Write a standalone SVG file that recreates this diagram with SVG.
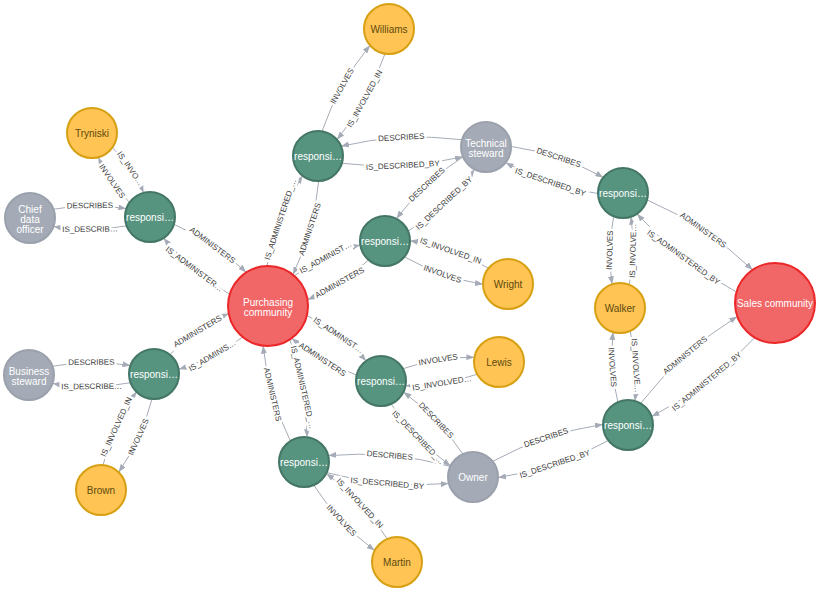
<svg xmlns="http://www.w3.org/2000/svg" xmlns:xlink="http://www.w3.org/1999/xlink" width="819" height="591" viewBox="0 0 819 591">
  <style>
    .link { fill: none; stroke: #A5ABB6; stroke-width: 1; marker-end: url(#arrow); }
    .el { font-family: "Liberation Sans", Arial, sans-serif; font-size: 8px; text-anchor: middle; dominant-baseline: central; }
    .node circle { stroke-width: 2; }
    .node text { font-family: "Liberation Sans", Arial, sans-serif; font-size: 10px; text-anchor: middle; }
    .yellow circle { fill: #FFC454; stroke: #D7A013; }
    .yellow text { fill: #604A0E; }
    .green circle { fill: #569480; stroke: #447666; }
    .gray circle { fill: #A5ABB6; stroke: #9AA1AC; }
    .red circle { fill: #F16667; stroke: #EB2728; }
    .green text, .gray text, .red text { fill: #FFFFFF; }
  </style>
  <defs>
    <marker id="arrow" viewBox="0 0 8 6" refX="8" refY="3" markerWidth="8" markerHeight="6" orient="auto" markerUnits="userSpaceOnUse">
      <path d="M0,0 L8,3 L0,6 Z" fill="#A5ABB6"/>
    </marker>
    <!-- cut the relationship lines where their captions sit -->
    <mask id="label-gaps" maskUnits="userSpaceOnUse" x="0" y="0" width="819" height="591">
      <rect x="0" y="0" width="819" height="591" fill="white"/>
      <use xlink:href="#link-labels" href="#link-labels" fill="black" stroke="black" stroke-width="5"/>
    </mask>
  </defs>
  <rect x="0" y="0" width="819" height="591" fill="#FFFFFF"/>

  <g id="connectors">
    <g mask="url(#label-gaps)">
      <path class="link" d="M129.6,202.5 Q109.9,182.7 98.3,157.2"/>
      <path class="link" d="M112.4,147.5 Q132.1,167.3 143.7,192.8"/>
      <path class="link" d="M53.4,209.3 Q89.9,202.4 126.4,208.7"/>
      <path class="link" d="M126.6,225.8 Q90.1,232.6 53.6,226.4"/>
      <path class="link" d="M173.9,224.3 Q214.8,242.1 246.2,272.4"/>
      <path class="link" d="M229.7,294.3 Q192.0,272.4 163.6,238.0"/>
      <path class="link" d="M322.0,131.3 Q338.3,84.0 370.1,45.3"/>
      <path class="link" d="M385.0,53.7 Q368.7,101.0 336.9,139.7"/>
      <path class="link" d="M462.1,139.7 Q401.0,132.1 341.0,146.2"/>
      <path class="link" d="M341.9,163.3 Q403.0,170.9 463.0,156.8"/>
      <path class="link" d="M318.7,181.0 Q314.1,230.6 292.9,274.7"/>
      <path class="link" d="M266.9,266.0 Q276.4,218.0 302.5,175.6"/>
      <path class="link" d="M463.0,156.8 Q424.1,181.8 396.4,218.7"/>
      <path class="link" d="M408.0,231.3 Q446.9,206.3 474.6,169.3"/>
      <path class="link" d="M368.6,259.9 Q341.2,285.5 307.5,299.7"/>
      <path class="link" d="M294.2,275.8 Q324.1,254.6 360.3,244.9"/>
      <path class="link" d="M404.4,256.8 Q441.2,277.7 483.0,284.3"/>
      <path class="link" d="M488.6,268.2 Q451.8,247.4 410.0,240.7"/>
      <path class="link" d="M511.0,146.4 Q560.0,153.6 603.4,177.4"/>
      <path class="link" d="M598.0,193.6 Q549.0,186.4 505.6,162.6"/>
      <path class="link" d="M647.1,199.9 Q706.5,225.6 752.6,269.9"/>
      <path class="link" d="M736.5,292.0 Q680.1,262.1 637.0,213.7"/>
      <path class="link" d="M613.8,216.3 Q606.8,250.1 612.1,284.3"/>
      <path class="link" d="M629.2,284.7 Q636.2,250.9 630.9,216.7"/>
      <path class="link" d="M617.9,402.1 Q609.2,367.5 613.1,332.0"/>
      <path class="link" d="M630.1,330.9 Q638.8,365.5 634.9,401.0"/>
      <path class="link" d="M640.6,403.4 Q681.5,351.0 737.3,316.5"/>
      <path class="link" d="M754.8,337.5 Q710.7,386.1 651.5,416.6"/>
      <path class="link" d="M492.6,461.4 Q544.5,433.0 603.0,424.4"/>
      <path class="link" d="M608.4,440.6 Q556.6,469.0 498.0,477.6"/>
      <path class="link" d="M462.9,454.1 Q438.8,417.7 403.4,392.1"/>
      <path class="link" d="M391.1,403.9 Q415.2,440.3 450.6,466.0"/>
      <path class="link" d="M402.8,368.8 Q437.6,356.6 474.4,357.3"/>
      <path class="link" d="M477.2,374.2 Q442.4,386.4 405.6,385.7"/>
      <path class="link" d="M356.7,375.1 Q320.5,362.3 291.8,338.2"/>
      <path class="link" d="M306.9,315.4 Q340.2,332.5 366.2,360.9"/>
      <path class="link" d="M290.4,441.0 Q268.1,395.4 263.1,345.7"/>
      <path class="link" d="M289.8,339.6 Q307.1,386.4 307.0,437.2"/>
      <path class="link" d="M450.4,466.4 Q390.2,450.0 328.2,455.6"/>
      <path class="link" d="M326.7,472.6 Q386.8,489.0 448.8,483.4"/>
      <path class="link" d="M313.7,485.0 Q338.3,523.3 374.7,550.6"/>
      <path class="link" d="M387.3,539.0 Q362.7,500.7 326.3,473.4"/>
      <path class="link" d="M169.8,354.6 Q196.0,328.5 228.7,313.5"/>
      <path class="link" d="M242.7,337.0 Q214.0,358.7 178.6,369.3"/>
      <path class="link" d="M52.4,366.3 Q91.4,358.9 130.4,365.6"/>
      <path class="link" d="M130.6,382.7 Q91.6,390.1 52.6,383.4"/>
      <path class="link" d="M152.0,398.9 Q141.9,438.6 118.6,472.2"/>
      <path class="link" d="M103.0,465.1 Q113.1,425.4 136.5,391.8"/>
    </g>
    <g fill="#3C3C3C">
      <g id="link-labels">
        <text class="el" x="111.9" y="181.3" transform="rotate(55.4 111.9 181.3)">INVOLVES</text>
        <text class="el" x="130.1" y="168.7" transform="rotate(55.4 130.1 168.7)">IS_INVO…</text>
        <text class="el" x="89.9" y="205.7" transform="rotate(-0.5 89.9 205.7)">DESCRIBES</text>
        <text class="el" x="90.1" y="229.3" transform="rotate(-0.5 90.1 229.3)">IS_DESCRIB…</text>
        <text class="el" x="212.4" y="245.3" transform="rotate(37 212.4 245.3)">ADMINISTERS</text>
        <text class="el" x="194.3" y="269.2" transform="rotate(37 194.3 269.2)">IS_ADMINISTER…</text>
        <text class="el" x="342.2" y="86.2" transform="rotate(-60.8 342.2 86.2)">INVOLVES</text>
        <text class="el" x="364.8" y="98.8" transform="rotate(-60.8 364.8 98.8)">IS_INVOLVED_IN</text>
        <text class="el" x="401.3" y="137.5" transform="rotate(-3.1 401.3 137.5)">DESCRIBES</text>
        <text class="el" x="402.8" y="165.5" transform="rotate(-3.1 402.8 165.5)">IS_DESCRIBED_BY</text>
        <text class="el" x="309.9" y="229.2" transform="rotate(-71.6 309.9 229.2)">ADMINISTERS</text>
        <text class="el" x="280.5" y="219.4" transform="rotate(-71.6 280.5 219.4)">IS_ADMINISTERED_…</text>
        <text class="el" x="426.9" y="184.7" transform="rotate(-43 426.9 184.7)">DESCRIBES</text>
        <text class="el" x="444.1" y="203.3" transform="rotate(-43 444.1 203.3)">IS_DESCRIBED_BY</text>
        <text class="el" x="339.7" y="282.7" transform="rotate(-29.1 339.7 282.7)">ADMINISTERS</text>
        <text class="el" x="325.7" y="257.5" transform="rotate(-29.1 325.7 257.5)">IS_ADMINIST…</text>
        <text class="el" x="442.4" y="274.1" transform="rotate(19.3 442.4 274.1)">INVOLVES</text>
        <text class="el" x="450.6" y="250.9" transform="rotate(19.3 450.6 250.9)">IS_INVOLVED_IN</text>
        <text class="el" x="558.6" y="157.7" transform="rotate(18.6 558.6 157.7)">DESCRIBES</text>
        <text class="el" x="550.4" y="182.3" transform="rotate(18.6 550.4 182.3)">IS_DESCRIBED_BY</text>
        <text class="el" x="703.2" y="230.2" transform="rotate(35.9 703.2 230.2)">ADMINISTERS</text>
        <text class="el" x="683.4" y="257.5" transform="rotate(35.9 683.4 257.5)">IS_ADMINISTERED_BY</text>
        <text class="el" x="609.9" y="250.2" transform="rotate(-88.5 609.9 250.2)">INVOLVES</text>
        <text class="el" x="633.1" y="250.8" transform="rotate(-88.5 633.1 250.8)">IS_INVOLVE…</text>
        <text class="el" x="612.3" y="367.3" transform="rotate(86.1 612.3 367.3)">INVOLVES</text>
        <text class="el" x="635.7" y="365.7" transform="rotate(86.1 635.7 365.7)">IS_INVOLVE…</text>
        <text class="el" x="685.2" y="355.4" transform="rotate(-39.7 685.2 355.4)">ADMINISTERS</text>
        <text class="el" x="706.9" y="381.6" transform="rotate(-39.7 706.9 381.6)">IS_ADMINISTERED_BY</text>
        <text class="el" x="546.1" y="437.9" transform="rotate(-18.5 546.1 437.9)">DESCRIBES</text>
        <text class="el" x="554.9" y="464.1" transform="rotate(-18.5 554.9 464.1)">IS_DESCRIBED_BY</text>
        <text class="el" x="436.0" y="420.4" transform="rotate(46.2 436.0 420.4)">DESCRIBES</text>
        <text class="el" x="418.0" y="437.6" transform="rotate(46.2 418.0 437.6)">IS_DESCRIBED_…</text>
        <text class="el" x="438.1" y="359.8" transform="rotate(-9.1 438.1 359.8)">INVOLVES</text>
        <text class="el" x="441.9" y="383.2" transform="rotate(-9.1 441.9 383.2)">IS_INVOLVED…</text>
        <text class="el" x="322.4" y="359.5" transform="rotate(33.6 322.4 359.5)">ADMINISTERS</text>
        <text class="el" x="338.4" y="335.3" transform="rotate(33.6 338.4 335.3)">IS_ADMINIST…</text>
        <text class="el" x="272.4" y="394.4" transform="rotate(77 272.4 394.4)">ADMINISTERS</text>
        <text class="el" x="302.8" y="387.4" transform="rotate(77 302.8 387.4)">IS_ADMINISTERED_…</text>
        <text class="el" x="389.7" y="455.5" transform="rotate(5.1 389.7 455.5)">DESCRIBES</text>
        <text class="el" x="387.3" y="483.5" transform="rotate(5.1 387.3 483.5)">IS_DESCRIBED_BY</text>
        <text class="el" x="341.3" y="520.6" transform="rotate(47.1 341.3 520.6)">INVOLVES</text>
        <text class="el" x="359.7" y="503.4" transform="rotate(47.1 359.7 503.4)">IS_INVOLVED_IN</text>
        <text class="el" x="197.6" y="331.3" transform="rotate(-30.8 197.6 331.3)">ADMINISTERS</text>
        <text class="el" x="212.3" y="355.9" transform="rotate(-30.8 212.3 355.9)">IS_ADMINIS…</text>
        <text class="el" x="91.4" y="362.4" transform="rotate(-0.5 91.4 362.4)">DESCRIBES</text>
        <text class="el" x="91.6" y="386.6" transform="rotate(-0.5 91.6 386.6)">IS_DESCRIBE…</text>
        <text class="el" x="138.6" y="437.1" transform="rotate(-65.4 138.6 437.1)">INVOLVES</text>
        <text class="el" x="116.4" y="426.9" transform="rotate(-65.4 116.4 426.9)">IS_INVOLVED_IN</text>
      </g>
    </g>
  </g>

  <g id="nodes">
    <g id="node-williams" class="node yellow"><circle cx="389" cy="29" r="25"/><text x="389" y="32.5">Williams</text></g>
    <g id="node-tryniski" class="node yellow"><circle cx="92" cy="133" r="25"/><text x="92" y="136.5">Tryniski</text></g>
    <g id="node-responsibility-a" class="node green"><circle cx="150" cy="217" r="25"/><text x="150" y="220.5">responsi…</text></g>
    <g id="node-chief-data-officer" class="node gray"><circle cx="30" cy="218" r="25"/><text x="30" y="213">Chief</text><text x="30" y="223">data</text><text x="30" y="233">officer</text></g>
    <g id="node-purchasing" class="node red"><circle cx="268" cy="306" r="40"/><text x="268" y="306">Purchasing</text><text x="268" y="316">community</text></g>
    <g id="node-sales" class="node red"><circle cx="775" cy="303" r="40"/><text x="775" y="306.5">Sales community</text></g>
    <g id="node-technical-steward" class="node gray"><circle cx="486" cy="147" r="25"/><text x="486" y="147">Technical</text><text x="486" y="157">steward</text></g>
    <g id="node-responsibility-b" class="node green"><circle cx="623" cy="193" r="25"/><text x="623" y="196.5">responsi…</text></g>
    <g id="node-walker" class="node yellow"><circle cx="620" cy="308" r="25"/><text x="620" y="311.5">Walker</text></g>
    <g id="node-responsibility-c" class="node green"><circle cx="628" cy="425" r="25"/><text x="628" y="428.5">responsi…</text></g>
    <g id="node-owner" class="node gray"><circle cx="473" cy="477" r="25"/><text x="473" y="480.5">Owner</text></g>
    <g id="node-lewis" class="node yellow"><circle cx="499" cy="362" r="25"/><text x="499" y="365.5">Lewis</text></g>
    <g id="node-responsibility-d" class="node green"><circle cx="381" cy="381" r="25"/><text x="381" y="384.5">responsi…</text></g>
    <g id="node-responsibility-e" class="node green"><circle cx="304" cy="462" r="25"/><text x="304" y="465.5">responsi…</text></g>
    <g id="node-martin" class="node yellow"><circle cx="397" cy="562" r="25"/><text x="397" y="565.5">Martin</text></g>
    <g id="node-responsibility-f" class="node green"><circle cx="154" cy="374" r="25"/><text x="154" y="377.5">responsi…</text></g>
    <g id="node-business-steward" class="node gray"><circle cx="29" cy="375" r="25"/><text x="29" y="375">Business</text><text x="29" y="385">steward</text></g>
    <g id="node-brown" class="node yellow"><circle cx="101" cy="490" r="25"/><text x="101" y="493.5">Brown</text></g>
    <g id="node-responsibility-g" class="node green"><circle cx="318" cy="156" r="25"/><text x="318" y="159.5">responsi…</text></g>
    <g id="node-responsibility-h" class="node green"><circle cx="385" cy="241" r="25"/><text x="385" y="244.5">responsi…</text></g>
    <g id="node-wright" class="node yellow"><circle cx="508" cy="284" r="25"/><text x="508" y="287.5">Wright</text></g>
  </g>
</svg>
